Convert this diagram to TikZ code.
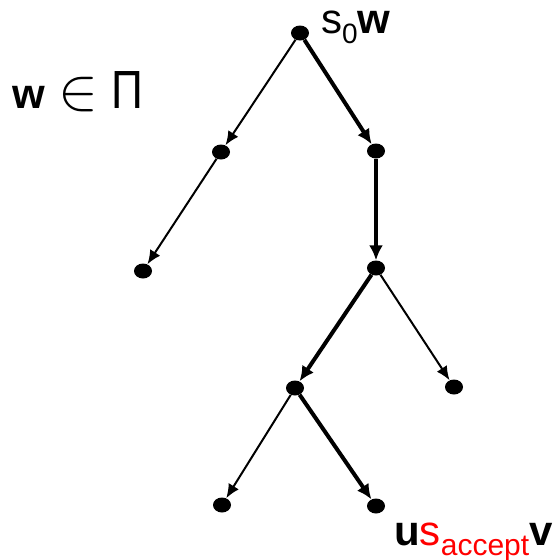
\documentclass[tikz,border=0pt]{standalone}
\usepackage{fontspec}
\setmainfont{Liberation Sans}
\usetikzlibrary{arrows.meta,shapes.geometric}
\begin{document}
\begin{tikzpicture}[x=1pt,y=-1pt,
  dot/.style={ellipse,fill=black,draw=none,minimum width=18pt,minimum height=15pt,inner sep=0pt},
  thin/.style={line width=2pt,-{Latex[length=14pt,width=12pt]}},
  thick/.style={line width=4pt,-{Latex[length=15pt,width=14pt]}},
  lbl/.style={inner sep=0pt,anchor=base west,font=\fontsize{42}{48}\selectfont}]
\useasboundingbox (0,0) rectangle (558,560);
\node[dot] (r) at (300,33) {};
\node[dot] (a) at (221,152) {};
\node[dot] (b) at (376,151) {};
\node[dot] (c) at (143,271) {};
\node[dot] (d) at (376,268) {};
\node[dot] (e) at (295,388) {};
\node[dot] (f) at (454,387) {};
\node[dot] (g) at (222,505) {};
\node[dot] (h) at (376,506) {};
\draw[thin] (r) -- (a);
\draw[thick] (r) -- (b);
\draw[thin] (a) -- (c);
\draw[thick] (b) -- (d);
\draw[thick] (d) -- (e);
\draw[thin] (d) -- (f);
\draw[thin] (e) -- (g);
\draw[thick] (e) -- (h);
\node[lbl] (t1) at (321,33) {s\raisebox{-10pt}{\fontsize{28}{30}\selectfont 0}\textbf{w}};
\node[lbl] (t2) at (12,108) {\textbf{w}\hspace{14pt}\raisebox{-1pt}{\scalebox{2.4}{$\in$}}\hspace{13pt}\scalebox{1.05}[1.28]{\fontsize{42}{48}\selectfont\symbol{"03A0}}};
\node[lbl] (t3) at (394,545) {\textbf{u}\textcolor{red}{s\raisebox{-10pt}{\fontsize{30}{32}\selectfont accept}}\textbf{v}};
\end{tikzpicture}
\end{document}
